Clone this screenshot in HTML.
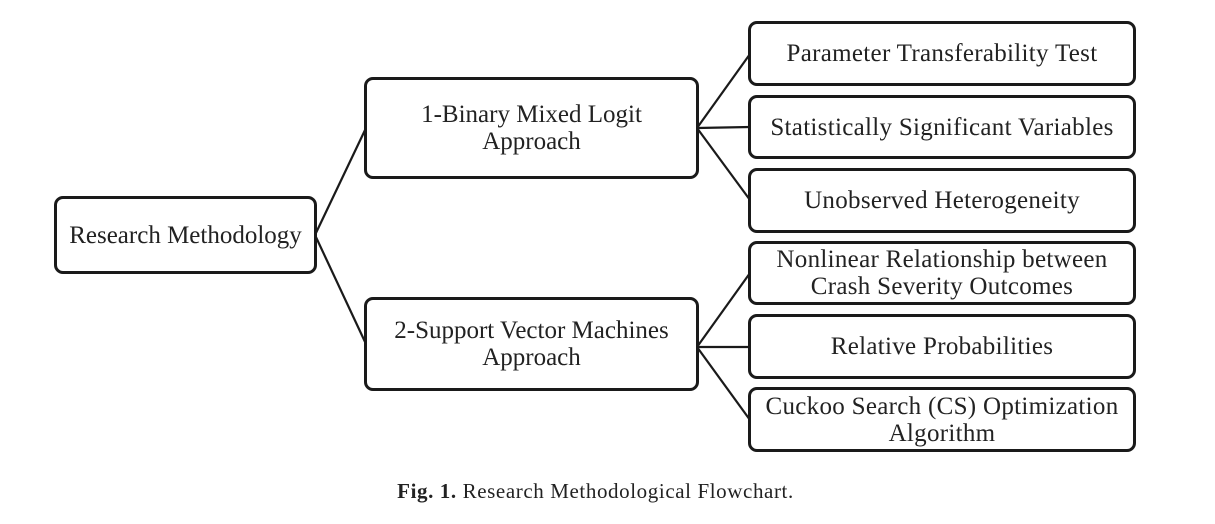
<!DOCTYPE html>
<html><head><style>
body{margin:0;background:#fff;width:1215px;height:524px;overflow:hidden;position:relative;font-family:"Liberation Serif",serif;color:#222}
.b{position:absolute;border:3px solid #1a1a1a;border-radius:9px;box-sizing:border-box;display:flex;align-items:center;justify-content:center;text-align:center;font-size:25px;line-height:27px;background:#fff;white-space:nowrap}
.r{letter-spacing:0.3px}
.cap{position:absolute;top:479px;left:-12px;width:1215px;text-align:center;font-size:21px;letter-spacing:0.6px}
</style></head><body>
<svg width="1215" height="524" style="position:absolute;left:0;top:0">
<g stroke="#1a1a1a" stroke-width="2.2" fill="none">
<line x1="315" y1="235" x2="366" y2="128"/>
<line x1="315" y1="235" x2="366" y2="344"/>
<line x1="697" y1="128" x2="750" y2="54"/>
<line x1="697" y1="128" x2="750" y2="127"/>
<line x1="697" y1="128" x2="750" y2="200"/>
<line x1="697" y1="347" x2="750" y2="273"/>
<line x1="697" y1="347" x2="750" y2="347"/>
<line x1="697" y1="347" x2="750" y2="420"/>
</g></svg>
<div class="b" style="left:54px;top:196px;width:263px;height:78px">Research Methodology</div>
<div class="b" style="left:364px;top:77px;width:335px;height:102px">1-Binary Mixed Logit<br>Approach</div>
<div class="b" style="left:364px;top:297px;width:335px;height:94px">2-Support Vector Machines<br>Approach</div>
<div class="b r" style="left:748px;top:21px;width:388px;height:65px">Parameter Transferability Test</div>
<div class="b r" style="left:748px;top:95px;width:388px;height:64px">Statistically Significant Variables</div>
<div class="b r" style="left:748px;top:168px;width:388px;height:65px">Unobserved Heterogeneity</div>
<div class="b r" style="left:748px;top:241px;width:388px;height:64px">Nonlinear Relationship between<br>Crash Severity Outcomes</div>
<div class="b r" style="left:748px;top:314px;width:388px;height:65px">Relative Probabilities</div>
<div class="b r" style="left:748px;top:387px;width:388px;height:65px">Cuckoo Search (CS) Optimization<br>Algorithm</div>
<div class="cap"><b>Fig. 1.</b> Research Methodological Flowchart.</div>
</body></html>
